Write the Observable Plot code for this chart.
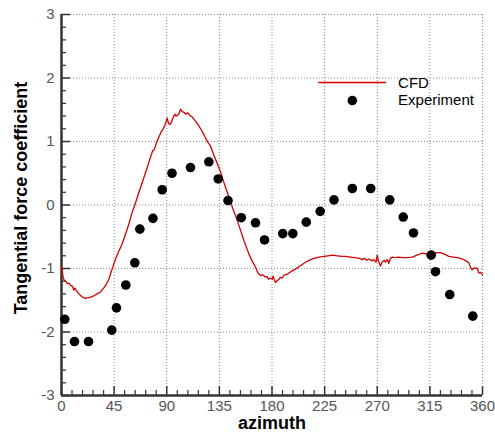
<!DOCTYPE html>
<html>
<head>
<meta charset="utf-8">
<script src="https://cdn.jsdelivr.net/npm/d3@7"></script>
<script src="https://cdn.jsdelivr.net/npm/@observablehq/plot@0.6"></script>
<style>
  html, body { margin: 0; padding: 0; background: #fff; }
  #chart svg { display: block; }
</style>
</head>
<body>
<div id="chart"></div>
<script>
// Tangential force coefficient over one revolution: CFD trace and measured points.

// CFD result (azimuth in degrees, coefficient)
const cfdAzimuth = [
  0, 0.6, 1.5, 2.5, 4, 5, 6.3, 8, 9.5, 10.5, 11.5, 12.5, 14, 16, 18, 20.5, 23, 25, 27.6, 30.5,
  33.3, 36, 38, 40.5, 42, 44, 46.2, 49, 51.9, 54, 57.6, 60, 62.7, 66, 70.4, 74, 78, 79, 82, 85.5,
  87, 88.9, 90.4, 91.5, 93, 94.1, 95.5, 96.9, 98, 100.3, 101.8, 103, 105, 106, 108, 110, 112, 114.6, 117, 120.3,
  123.1, 125, 127.4, 130, 133, 136, 138.8, 141, 144.5, 146, 150, 153.1, 156, 160.2, 163, 165.9, 168, 170.2, 172, 174,
  175.9, 177, 178.7, 180.2, 181, 182, 183, 184.5, 186, 187, 188.7, 190, 193, 196, 200.1, 204, 208, 212.9, 216, 220,
  224.3, 228, 231.5, 235.8, 240, 242.9, 247, 251, 255, 257.1, 259, 261, 263, 265.7, 267, 269, 270, 271, 272.8, 274,
  276, 277, 278.5, 279.9, 281, 282.8, 285, 288, 292, 296, 299.9, 304, 308.4, 312, 315.6, 319, 322, 324.1, 327, 331.2,
  335, 338.4, 342.6, 346, 348.3, 350, 351.2, 353, 355.5, 356.9, 358.5, 360
];
const cfdCoefficient = [
  -0.98, -1.03, -1.15, -1.19, -1.21, -1.24, -1.23, -1.27, -1.28, -1.34, -1.31, -1.34, -1.38, -1.42, -1.45, -1.47, -1.46, -1.45, -1.43, -1.40,
  -1.37, -1.31, -1.26, -1.17, -1.08, -0.97, -0.85, -0.73, -0.61, -0.50, -0.30, -0.14, 0.00, 0.19, 0.43, 0.63, 0.86, 0.86, 1.02, 1.16,
  1.20, 1.28, 1.37, 1.28, 1.27, 1.31, 1.38, 1.43, 1.40, 1.43, 1.51, 1.47, 1.46, 1.43, 1.45, 1.41, 1.38, 1.32, 1.26, 1.16,
  1.06, 0.99, 0.93, 0.80, 0.66, 0.52, 0.36, 0.24, 0.06, -0.03, -0.23, -0.40, -0.56, -0.77, -0.88, -0.98, -1.07, -1.11, -1.10, -1.13,
  -1.13, -1.17, -1.15, -1.17, -1.12, -1.18, -1.22, -1.19, -1.17, -1.14, -1.15, -1.11, -1.09, -1.05, -1.01, -0.96, -0.91, -0.86, -0.84, -0.82,
  -0.81, -0.80, -0.79, -0.80, -0.81, -0.81, -0.82, -0.83, -0.84, -0.86, -0.84, -0.87, -0.85, -0.88, -0.86, -0.90, -0.79, -0.88, -0.96, -0.90,
  -0.87, -0.90, -0.86, -0.92, -0.85, -0.82, -0.83, -0.82, -0.83, -0.83, -0.82, -0.79, -0.76, -0.77, -0.77, -0.76, -0.75, -0.75, -0.77, -0.81,
  -0.82, -0.83, -0.85, -0.88, -0.91, -0.99, -1.02, -0.99, -1.00, -1.07, -1.06, -1.10
];

// Experimental measurements
const expAzimuth = [
  2.8, 11.1, 23.1, 43.0, 47.0, 55.0, 62.7, 67.0, 78.2, 86.1, 94.5, 110.3, 126.0, 134.0, 142.4, 153.7,
  165.9, 173.6, 189.2, 197.8, 209.3, 221.2, 233.0, 248.7, 264.4, 280.7, 292.2, 301.0, 316.1, 319.8, 332.0, 351.7
];
const expCoefficient = [
  -1.80, -2.15, -2.15, -1.97, -1.62, -1.26, -0.91, -0.38, -0.21, 0.24, 0.50, 0.59, 0.68, 0.41, 0.07, -0.20,
  -0.28, -0.55, -0.45, -0.45, -0.27, -0.10, 0.08, 0.26, 0.26, 0.08, -0.19, -0.44, -0.79, -1.05, -1.41, -1.75
];

// Axis ticks
const xMajorTicks = [0, 45, 90, 135, 180, 225, 270, 315, 360];
const xMinorTicks = d3.range(0, 361, 9).filter(v => v % 45 !== 0);
const yMajorTicks = [-3, -2, -1, 0, 1, 2, 3];
const yMinorTicks = d3.range(-30, 31, 2).map(v => v / 10).filter(v => !Number.isInteger(v));

const xTitle = "azimuth";
const yTitle = "Tangential force coefficient";
const seriesNames = ["CFD", "Experiment"];

const cfd = cfdAzimuth.map((a, i) => ({azimuth: a, value: cfdCoefficient[i]}));
const experiment = expAzimuth.map((a, i) => ({azimuth: a, value: expCoefficient[i]}));

// Legend placement, in data units
const legendLayout = {lineX1: 220, lineX2: 277.8, lineY: 1.93, dotX: 248.7, dotY: 1.645, textX: 287.8, textY: [1.92, 1.655]};

const width = 495, height = 435;
const margin = {top: 14, right: 13, bottom: 40, left: 61};
const frameW = width - margin.left - margin.right;
const frameH = height - margin.top - margin.bottom;

const red = "#d40000";
const axisColor = "#333";
const gridStyle = {stroke: "#8a8a8a", strokeOpacity: 1, strokeDasharray: "1,2", strokeWidth: 1};
const tickFont = {fontSize: 15, fill: "#555", fontFamily: "'Liberation Sans Narrow', 'Arial Narrow', 'Liberation Sans', Arial, sans-serif"};
const titleFont = {fontSize: 18, fontWeight: "bold", fill: "#000", fontFamily: "'Liberation Sans', Arial, Helvetica, sans-serif"};

const chart = Plot.plot({
  width, height,
  marginTop: margin.top, marginRight: margin.right, marginBottom: margin.bottom, marginLeft: margin.left,
  style: {background: "#fff", fontFamily: "'Liberation Sans', Arial, sans-serif", overflow: "visible"},
  x: {domain: [0, 360], axis: null},
  y: {domain: [-3, 3], axis: null},
  marks: [
    // dotted grid
    Plot.gridX(xMajorTicks.filter(v => v > 0), gridStyle),
    Plot.gridY(yMajorTicks.filter(v => v > -3), gridStyle),

    // inward tick marks
    Plot.tickX(xMajorTicks, {x: d => d, insetTop: frameH - 9, stroke: axisColor, strokeWidth: 1.5}),
    Plot.tickX(xMinorTicks, {x: d => d, insetTop: frameH - 5, stroke: axisColor, strokeWidth: 1.2}),
    Plot.tickY(yMajorTicks, {y: d => d, insetRight: frameW - 9, stroke: axisColor, strokeWidth: 1.5}),
    Plot.tickY(yMinorTicks, {y: d => d, insetRight: frameW - 5, stroke: axisColor, strokeWidth: 1.2}),

    // tick labels
    Plot.axisX(xMajorTicks, {tickSize: 0, tickPadding: 5, tickFormat: d => String(d), label: null, ...tickFont}),
    Plot.axisY(yMajorTicks, {tickSize: 0, tickPadding: 7, tickFormat: d => String(d), label: null, ...tickFont}),

    // axis lines
    Plot.ruleX([0], {stroke: axisColor, strokeWidth: 2.5}),
    Plot.ruleY([-3], {stroke: axisColor, strokeWidth: 2.5}),

    // axis titles
    Plot.text([xTitle], {frameAnchor: "bottom", lineAnchor: "middle", dy: 28, text: d => d, ...titleFont}),
    Plot.text([yTitle], {frameAnchor: "left", textAnchor: "middle", lineAnchor: "middle", dx: -40, dy: -7, rotate: -90, text: d => d, ...titleFont}),

    // data
    Plot.line(cfd, {x: "azimuth", y: "value", stroke: red, strokeWidth: 1.3}),
    Plot.dot(experiment, {x: "azimuth", y: "value", r: 4.8, fill: "#000", stroke: null}),

    // legend
    Plot.ruleY([legendLayout.lineY], {x1: legendLayout.lineX1, x2: legendLayout.lineX2, stroke: red, strokeWidth: 1.5}),
    Plot.dot([0], {x: () => legendLayout.dotX, y: () => legendLayout.dotY, r: 4.8, fill: "#000", stroke: null}),
    Plot.text(seriesNames, {
      x: () => legendLayout.textX, y: (d, i) => legendLayout.textY[i], text: d => d,
      textAnchor: "start", fontSize: 15, fill: "#000", fontFamily: "'Liberation Sans', Arial, sans-serif"
    })
  ]
});

document.getElementById("chart").appendChild(chart);
</script>
</body>
</html>
